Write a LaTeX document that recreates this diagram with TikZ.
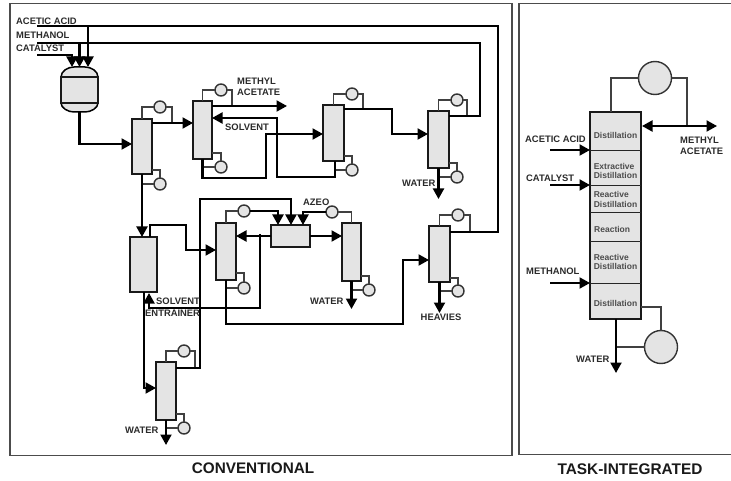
\documentclass[tikz,border=0pt]{standalone}
\usepackage{fontspec}
\setmainfont{Liberation Sans}
\usetikzlibrary{arrows.meta,calc}
\definecolor{fillg}{HTML}{E4E4E4}
\definecolor{ink}{HTML}{2A2A2A}
\tikzset{
  colbox/.style={draw=black!90,line width=2.2pt,fill=fillg,inner sep=0pt,outer sep=0pt},
  ball/.style={circle,draw=black!80,line width=1.4pt,fill=fillg,inner sep=0pt,outer sep=0pt,minimum size=#1},
  ball/.default=12pt,
  pipe/.style={draw=black,line width=2.1pt,line join=miter},
  thin pipe/.style={draw=black!75,line width=1.3pt},
  flow/.style={pipe,-{Triangle[length=10.5pt,width=11pt]}},
  frame/.style={draw=black!70,line width=1.2pt},
  lab/.style={font=\fontsize{9.4}{10}\selectfont\bfseries,text=ink,inner sep=0pt,anchor=west},
  sect/.style={font=\fontsize{8.5}{9.6}\selectfont\bfseries,text=black!70,inner sep=0pt,align=left},
  bigcap/.style={font=\fontsize{15.3}{17}\selectfont\bfseries,text=black!90,inner sep=0pt}
}
% name, xl, yt, xr, yb
\newcommand\colm[5]{\node[colbox,minimum width={(#4-#2)*1pt},minimum height={(#5-#3)*1pt}] (#1) at ({(#2+#4)/2},{(#3+#5)/2}) {};}
% name, column, cx, cy, right x, right y : condenser with its thin loop
\newcommand\cond[6]{\node[ball] (#1) at (#3,#4) {};\coordinate (#1r) at (#5,#6);
  \draw[thin pipe] (#2.north) |- (#1.west);\draw[thin pipe] (#1.east) -| (#1r);}
% name, column, cx, cy, y of the tap on the column : reboiler
\newcommand\reb[5]{\node[ball] (#1) at (#3,#4) {};
  \coordinate (#1t) at (#2.east |- 0,#5);
  \draw[thin pipe] (#1t) -| (#1.north);\draw[thin pipe] (#1.west) -- (#1.west -| #2.south);}
\begin{document}
\begin{tikzpicture}[x=1pt,y=-1pt]
\useasboundingbox (0,0) rectangle (731,481);
\node[frame,draw,minimum width=502pt,minimum height=452pt,inner sep=0pt] (fl) at (261,229.5) {};
\node[frame,draw,minimum width=240pt,minimum height=451pt,inner sep=0pt] (fr) at (639,229) {};

% labels of the feeds
\node[lab] (tA) at (16,21) {ACETIC ACID};
\node[lab] (tM) at (16,35) {METHANOL};
\node[lab] (tC) at (16,48) {CATALYST};

% reactor
\node[minimum width=37pt,minimum height=45pt,inner sep=0pt,outer sep=0pt] (rx) at (79.5,89.5) {};
\filldraw[fill=fillg,draw=black,line width=1.5pt] (rx.west |- 0,77) .. controls (61,71) and (68,67) .. (74,67) -- (85,67) .. controls (91,67) and (98,71) .. (98,77) -- (98,103) .. controls (98,108) and (91,112) .. (85,112) -- (74,112) .. controls (68,112) and (61,108) .. (61,103) -- cycle;
\draw[colbox,fill=fillg] (61,77) rectangle (98,103);

% columns
\colm{c1}{132}{119}{152}{174}
\colm{c2}{193}{101}{212}{159}
\colm{c3}{323}{105}{344}{161}
\colm{c4}{130}{237}{157}{292}
\colm{c5}{428}{111}{449}{168}
\colm{c6}{429}{226}{450}{282}
\colm{c7}{216}{223}{236}{280}
\colm{c8}{156}{362}{176}{420}
\colm{c9}{342}{223}{361}{281}
\node[colbox,minimum width=39pt,minimum height=22pt] (dec) at (290.5,236) {};

% condensers
\cond{k1}{c1}{160}{107}{172}{123}
\cond{k2}{c2}{221}{90}{232}{106}
\cond{k3}{c3}{352}{94}{363}{109}
\cond{k5}{c5}{457}{100}{467}{116}
\cond{k6}{c6}{458}{215}{470}{232}
\cond{k8}{c8}{184}{351}{195}{368}
\node[ball] (k7) at (244,211) {};
\draw[thin pipe] (c7.north) |- (k7.west);
\node[ball] (k9) at (332,212) {};
\draw[thin pipe] (k9.east) -| (c9.north);

% reboilers
\reb{r1}{c1}{160}{184}{170}
\reb{r2}{c2}{221}{167}{153}
\reb{r3}{c3}{352}{170}{156}
\reb{r5}{c5}{457}{177}{163}
\reb{r6}{c6}{458}{291}{278}
\reb{r7}{c7}{244}{288}{273}
\reb{r8}{c8}{184}{428}{414}
\reb{r9}{c9}{369}{290}{276}

% named free ends
\coordinate (aE) at (37,26);
\coordinate (mE) at (37,43);
\coordinate (cE) at (37,55);
\coordinate (tip1) at (72,67);
\coordinate (tip2) at (79.5,67);
\coordinate (tip3) at (88,67);
\coordinate (mEnd) at (287,106);
\coordinate (wE5) at (438.5,199);
\coordinate (hE) at (439.5,313);
\coordinate (wE9) at (351.5,309);
\coordinate (wE8) at (166,445);
\coordinate (dt1) at (278,225);
\coordinate (dt2) at (291,225);
\coordinate (dt3) at (303,225);

% feeds
\draw[pipe] (c6.east |- k6r) -- (498,232) -- (498,26) -- (aE);
\draw[flow] (88,26) -- (tip3);
\draw[pipe] (c5.east |- k5r) -- (480,116) -- (480,43) -- (mE);
\draw[flow] (79.5,43) -- (tip2);
\draw[flow] (cE) -- (72,55) -- (tip1);

% streams
\draw[flow] (rx.south) -- (79.5,144) -- (c1.west |- 0,144);
\draw[flow] (c1.east |- k1r) -- (c2.west |- k1r);
\draw[flow] (c2.east |- k2r) -- (mEnd);
\node[lab,align=left,anchor=north west,font=\fontsize{9.4}{11}\selectfont\bfseries] (tMA) at (237,78) {METHYL\\ACETATE};
\node[lab] (tS) at (225,127) {SOLVENT};
\draw[flow] (c3.south -| 335,0) -- (335,177) -- (277,177) -- (277,118) -- (c2.east |- 0,118);
\draw[flow] (c2.south) -- (202.5,178) -- (266,178) -- (266,134) -- (c3.west |- 0,134);
\draw[flow] (c3.east |- k3r) -- (392,109) -- (392,134) -- (c5.west |- 0,134);
\draw[flow] (c5.south) -- (wE5);
\node[lab] (tW5) at (402,183) {WATER};
\draw[flow] (c1.south) -- (142,237);
\draw[flow] (150,237) -- (150,225) -- (186,225) -- (186,250) -- (c7.west |- 0,250);
\draw[flow] (c7.south) -- (226,324) -- (403,324) -- (403,260) -- (c6.west |- 0,260);
\draw[flow] (c6.south) -- (hE);
\node[lab,anchor=center] (tH) at (441,317) {HEAVIES};
\draw[flow] (c8.east |- k8r) -- (200,368) -- (200,199) -- (291,199) -- (dt2);
\draw[flow] (k7.east) -- (278,211) -- (dt1);
\draw[flow] (k9.west) -- (303,212) -- (dt3);
\node[lab] (tAz) at (303,202) {AZEO};
\draw[flow] (dec.east) -- (c9.west |- dec.east);
\draw[flow] (dec.west) -- (c7.east |- dec.west);
\draw[flow] (260,234) -- (260,308) -- (149,308) -- (149,293);
\node[lab] (tSo) at (156,301) {SOLVENT};
\node[lab] (tEn) at (145,313) {ENTRAINER};
\draw[flow] (144,292) -- (144,388) -- (c8.west |- 0,388);
\draw[flow] (c8.south) -- (wE8);
\node[lab] (tW8) at (125,430) {WATER};
\draw[flow] (c9.south) -- (wE9);
\node[lab] (tW9) at (310,301) {WATER};

% task-integrated column
\node[colbox,minimum width=51pt,minimum height=207pt] (ti) at (615.5,215.5) {};
\foreach \yy in {151,186,213,242,283} \draw[black!85,line width=1pt] (ti.west |- 0,\yy) -- (ti.east |- 0,\yy);
\node[sect] (s1) at (615.5,135) {Distillation};
\node[sect] (s2) at (615.5,171) {Extractive\\Distillation};
\node[sect] (s3) at (615.5,199.5) {Reactive\\Distillation};
\node[sect,anchor=west] (s4) at (594,229) {Reaction};
\node[sect] (s5) at (615.5,262) {Reactive\\Distillation};
\node[sect] (s6) at (615.5,303) {Distillation};

\node[ball=33pt] (tk) at (655,78) {};
\node[ball=33pt] (tr) at (661,347) {};
\coordinate (tkj) at (687,126);
\coordinate (tiE) at (717,126);
\coordinate (f1) at (550,150);
\coordinate (f2) at (550,185);
\coordinate (f3) at (550,283);
\coordinate (tiW) at (616,373);
\draw[thin pipe] (611,112) |- (tk.west);
\draw[thin pipe] (tk.east) -| (tkj);
\draw[pipe,{Triangle[length=10.5pt,width=11pt]}-{Triangle[length=10.5pt,width=11pt]}] (ti.east |- tkj) ++(1,0) -- (tiE);
\draw[flow] (f1) -- (ti.west |- f1);
\draw[flow] (f2) -- (ti.west |- f2);
\draw[flow] (f3) -- (ti.west |- f3);
\draw[thin pipe] (ti.east |- 0,307) -| (tr.north);
\draw[thin pipe] (tr.west) -- (616,347);
\draw[flow] (616,319) -- (tiW);
\node[lab] (ta2) at (525,139) {ACETIC ACID};
\node[lab] (tc2) at (526,178) {CATALYST};
\node[lab] (tm2) at (526,271) {METHANOL};
\node[lab] (tw2) at (576,359) {WATER};
\node[lab,align=left,anchor=north west,font=\fontsize{9.4}{11}\selectfont\bfseries] (tma2) at (680,137) {METHYL\\ACETATE};

\node[bigcap] (cn) at (253,468) {CONVENTIONAL};
\node[bigcap,font=\fontsize{15.4}{17}\selectfont\bfseries] (ct) at (630,469) {TASK-INTEGRATED};
\end{tikzpicture}
\end{document}
